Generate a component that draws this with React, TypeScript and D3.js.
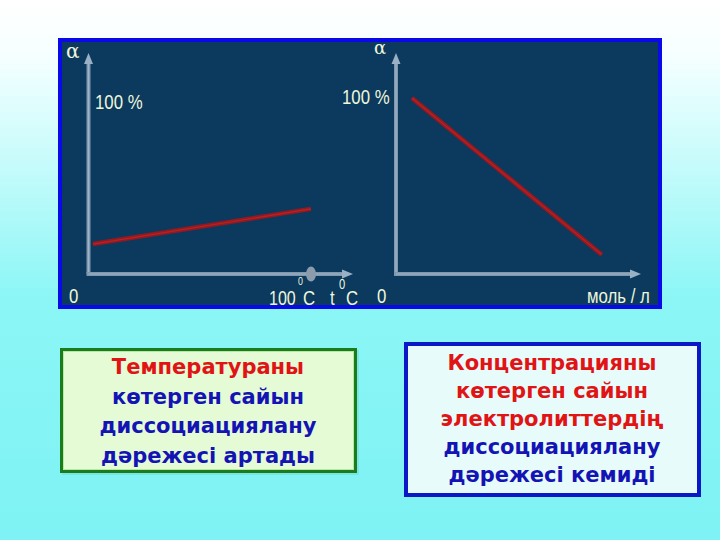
import React from "react";
import * as d3 from "d3";

// ---- data ----
const tempDomain = [0, 100]; // °C
const tempSeries = [
  { x: 2, a: 17 },
  { x: 100, a: 37 },
];
const concDomain = [0, 10]; // моль / л
const concSeries = [
  { x: 0.65, a: 100 },
  { x: 8.4, a: 11 },
];
const alphaDomain = [0, 100];

const leftBoxLines = [
  { text: "Температураны", color: "#e01414" },
  { text: "көтерген сайын", color: "#1414b4" },
  { text: "диссоциациялану", color: "#1414b4" },
  { text: "дәрежесі артады", color: "#1414b4" },
];
const rightBoxLines = [
  { text: "Концентрацияны", color: "#e01414" },
  { text: "көтерген сайын", color: "#e01414" },
  { text: "электролиттердің", color: "#e01414" },
  { text: "диссоциациялану", color: "#1414b4" },
  { text: "дәрежесі кемиді", color: "#1414b4" },
];

const W = 720;
const H = 540;

const labelColor = "#eef6dc";
const axisColor = "#7f98ae";
const lineColor = "#98181e";

function Axes({ x0, y0, yTop, xEnd }: { x0: number; y0: number; yTop: number; xEnd: number }) {
  return (
    <g>
      <line x1={x0} y1={y0} x2={x0} y2={yTop + 8} stroke={axisColor} strokeWidth={4} />
      <line x1={x0} y1={y0} x2={x0} y2={yTop + 8} stroke="#9fb4c6" strokeWidth={1.2} />
      <path d={`M${x0},${yTop} L${x0 - 4.5},${yTop + 11} L${x0 + 4.5},${yTop + 11} Z`} fill="#9ab0c4" />
      <line x1={x0 - 2} y1={y0} x2={xEnd - 8} y2={y0} stroke={axisColor} strokeWidth={4} />
      <line x1={x0} y1={y0} x2={xEnd - 8} y2={y0} stroke="#9fb4c6" strokeWidth={1.2} />
      <path d={`M${xEnd},${y0} L${xEnd - 11},${y0 - 4.5} L${xEnd - 11},${y0 + 4.5} Z`} fill="#9ab0c4" />
    </g>
  );
}

function Narrow({ x, y, children, size = 20, anchor = "start" }: any) {
  return (
    <text
      transform={`translate(${x},${y}) scale(0.8,1)`}
      fontFamily="'Liberation Sans', Arial, sans-serif"
      fontSize={size}
      fill={labelColor}
      textAnchor={anchor}
    >
      {children}
    </text>
  );
}

export default function App() {
  const yScale = d3.scaleLinear().domain(alphaDomain).range([274, 98]);
  const xLeft = d3.scaleLinear().domain(tempDomain).range([88.5, 311]);
  const xRight = d3.scaleLinear().domain(concDomain).range([396, 641]);

  const leftLine = d3
    .line<{ x: number; a: number }>()
    .x((d) => xLeft(d.x))
    .y((d) => yScale(d.a));
  const rightLine = d3
    .line<{ x: number; a: number }>()
    .x((d) => xRight(d.x))
    .y((d) => yScale(d.a));

  const boxFont = "'DejaVu Sans', Verdana, sans-serif";

  return (
    <svg
      width={W}
      height={H}
      viewBox={`0 0 ${W} ${H}`}
      style={{ position: "absolute", left: 0, top: 0, display: "block" }}
    >
      <defs>
        <linearGradient id="bg" x1="0" y1="0" x2="0" y2="1">
          <stop offset="0" stopColor="#ffffff" />
          <stop offset="0.1" stopColor="#f6ffff" />
          <stop offset="0.55" stopColor="#8cf6f6" />
          <stop offset="1" stopColor="#7ef2f4" />
        </linearGradient>
        <clipPath id="panelClip">
          <rect x={62} y={42} width={596} height={263} />
        </clipPath>
      </defs>
      <rect x={0} y={0} width={W} height={H} fill="url(#bg)" />

      {/* chart panel */}
      <rect x={58} y={38} width={604} height={271} fill="#0a0ae8" />
      <rect x={62} y={42} width={596} height={263} fill="#0b3a5e" />

      <g clipPath="url(#panelClip)">
        {/* left chart */}
        <Axes x0={xLeft(0)} y0={yScale(0)} yTop={53} xEnd={353} />
        <ellipse cx={xLeft(100)} cy={yScale(0)} rx={5} ry={7.5} fill="#8c9cac" />
        <path d={leftLine(tempSeries) || ""} stroke={lineColor} strokeWidth={4.5} fill="none" />
        <path d={leftLine(tempSeries) || ""} stroke="#b42428" strokeWidth={1.2} fill="none" />

        <text x={66} y={58} fontFamily="'DejaVu Serif', serif" fontSize={20} fill={labelColor}>
          α
        </text>
        <Narrow x={95} y={109} size={21}>100 %</Narrow>
        <Narrow x={69} y={303} size={21}>0</Narrow>
        <Narrow x={269} y={305} size={20}>100</Narrow>
        <Narrow x={298} y={285} size={11}>0</Narrow>
        <Narrow x={303} y={305} size={21}>C</Narrow>
        <Narrow x={330} y={305} size={21}>t</Narrow>
        <Narrow x={339} y={289} size={14}>0</Narrow>
        <Narrow x={346} y={305} size={21}>C</Narrow>

        {/* right chart */}
        <Axes x0={xRight(0)} y0={yScale(0)} yTop={53} xEnd={641} />
        <path d={rightLine(concSeries) || ""} stroke={lineColor} strokeWidth={4.5} fill="none" />
        <path d={rightLine(concSeries) || ""} stroke="#b42428" strokeWidth={1.2} fill="none" />

        <text x={374} y={54} fontFamily="'DejaVu Serif', serif" fontSize={18} fill={labelColor}>
          α
        </text>
        <Narrow x={342} y={104} size={21}>100 %</Narrow>
        <Narrow x={377} y={303} size={21}>0</Narrow>
        <Narrow x={587} y={303} size={21}>моль / л</Narrow>
      </g>

      {/* left text box */}
      <rect x={62} y={350} width={297} height={125} fill="#6fd8d8" opacity={0.5} />
      <rect x={60} y={348} width={297} height={125} fill="#1b7c1b" />
      <rect x={63} y={351} width={291} height={119} fill="#e4fbd6" />
      <rect x={63.5} y={351.5} width={290} height={118} fill="none" stroke="#b8e8a8" strokeWidth={1} />
      {leftBoxLines.map((l, i) => (
        <text
          key={i}
          x={208}
          y={374 + i * 29.5}
          textAnchor="middle"
          fontFamily={boxFont}
          fontWeight="bold"
          fontSize={21}
          fill={l.color}
        >
          {l.text}
        </text>
      ))}

      {/* right text box */}
      <rect x={404} y={342} width={297} height={155} fill="#0a18c8" />
      <rect x={408} y={346} width={289} height={147} fill="#e8fbfb" />
      {rightBoxLines.map((l, i) => (
        <text
          key={i}
          x={552}
          y={370 + i * 28}
          textAnchor="middle"
          fontFamily={boxFont}
          fontWeight="bold"
          fontSize={21}
          fill={l.color}
        >
          {l.text}
        </text>
      ))}
    </svg>
  );
}
